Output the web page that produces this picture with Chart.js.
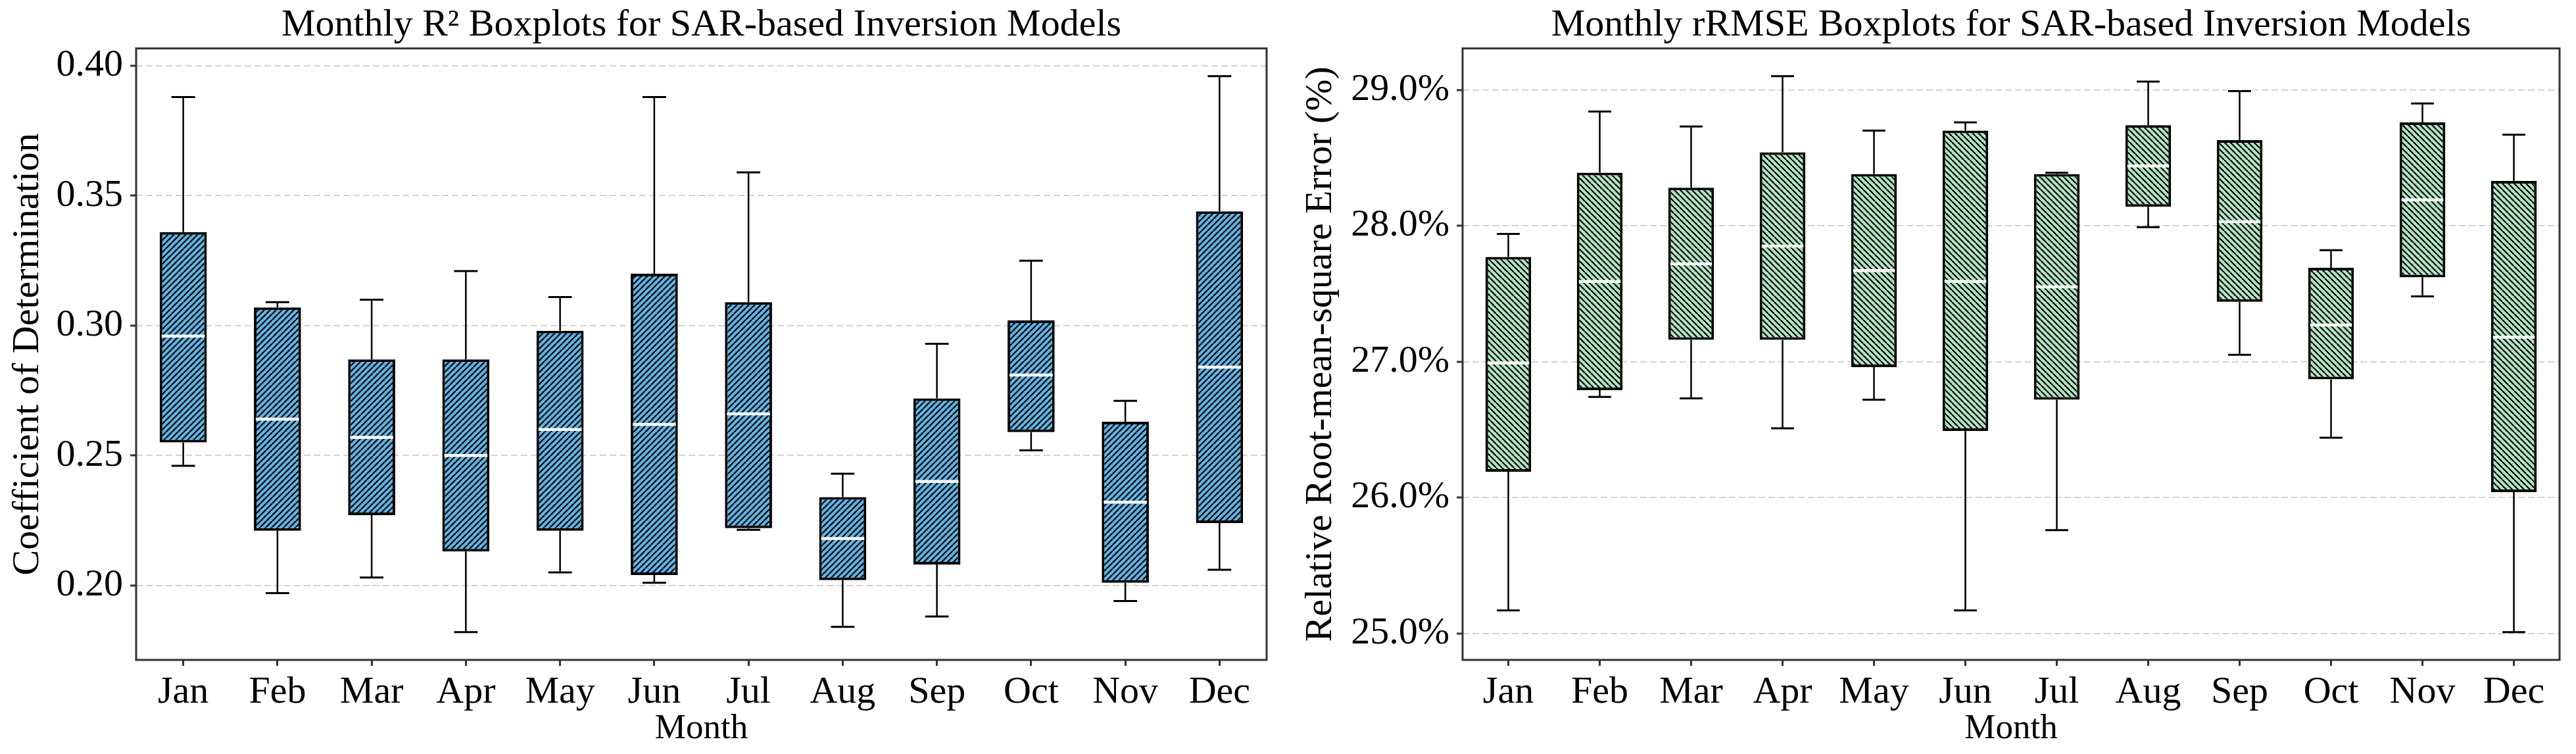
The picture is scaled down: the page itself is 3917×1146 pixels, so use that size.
<!DOCTYPE html>
<html>
<head>
<meta charset="utf-8">
<title>Monthly R² / rRMSE Boxplots</title>
<script src="https://cdn.jsdelivr.net/npm/chart.js@4.4.1/dist/chart.umd.min.js"></script>
<style>
    html, body { margin: 0; padding: 0; background: #fff; overflow: hidden; }
    #wrap { position: relative; width: 3917px; height: 1146px; }
    canvas { position: absolute; top: 0; }
    #r2Chart { left: 0; }
    #rmseChart { left: 1960px; }
</style>
</head>
<body>
<div id="wrap">
    <canvas id="r2Chart" width="1960" height="1146"></canvas>
    <canvas id="rmseChart" width="1957" height="1146"></canvas>
</div>
<script>
// Meses (eje x)
const months = ['Jan', 'Feb', 'Mar', 'Apr', 'May', 'Jun', 'Jul', 'Aug', 'Sep', 'Oct', 'Nov', 'Dec'];

// R² por mes: bigote inferior, Q1, mediana, Q3, bigote superior
const r2Low    = [0.246, 0.197, 0.203, 0.182, 0.205, 0.201, 0.2214, 0.184, 0.188, 0.252, 0.194, 0.206];
const r2Q1     = [0.255, 0.221, 0.227, 0.213, 0.221, 0.204, 0.2220, 0.202, 0.208, 0.259, 0.201, 0.224];
const r2Median = [0.296, 0.264, 0.257, 0.250, 0.260, 0.262, 0.266, 0.218, 0.240, 0.281, 0.232, 0.284];
const r2Q3     = [0.336, 0.307, 0.287, 0.287, 0.298, 0.320, 0.309, 0.234, 0.272, 0.302, 0.263, 0.344];
const r2High   = [0.388, 0.309, 0.310, 0.321, 0.311, 0.388, 0.359, 0.243, 0.293, 0.325, 0.271, 0.396];
const r2Ticks  = [0.20, 0.25, 0.30, 0.35, 0.40];

// rRMSE (%) por mes
const rmseLow    = [25.17, 26.74, 26.73, 26.51, 26.72, 25.17, 25.76, 27.99, 27.05, 26.44, 27.48, 25.01];
const rmseQ1     = [26.19, 26.79, 27.16, 27.16, 26.96, 26.49, 26.72, 28.14, 27.44, 26.87, 27.62, 26.04];
const rmseMedian = [26.99, 27.59, 27.72, 27.85, 27.67, 27.59, 27.55, 28.44, 28.03, 27.27, 28.19, 27.18];
const rmseQ3     = [27.77, 28.39, 28.28, 28.54, 28.38, 28.70, 28.38, 28.74, 28.63, 27.69, 28.76, 28.33];
const rmseHigh   = [27.94, 28.84, 28.73, 29.10, 28.70, 28.76, 28.39, 29.06, 28.99, 27.82, 28.90, 28.67];
const rmseTicks  = [25, 26, 27, 28, 29];

Chart.defaults.font.family = "'Liberation Serif', 'Times New Roman', serif";
Chart.defaults.color = '#000';

// Patrón rayado para las cajas
function makeHatch(fill, dir) {
    const size = 9;
    const tile = document.createElement('canvas');
    tile.width = size;
    tile.height = size;
    const c = tile.getContext('2d');
    c.fillStyle = fill;
    c.fillRect(0, 0, size, size);
    c.strokeStyle = '#000';
    c.lineWidth = 2.2;
    c.beginPath();
    for (let k = -1; k <= 1; k++) {
        if (dir === '/') {
            c.moveTo(k * size, size);
            c.lineTo(k * size + size, 0);
        } else {
            c.moveTo(k * size, 0);
            c.lineTo(k * size + size, size);
        }
    }
    c.stroke();
    return c.createPattern(tile, 'repeat');
}

// Margen del 5% como matplotlib
function paddedRange(lows, highs) {
    const lo = Math.min(...lows);
    const hi = Math.max(...highs);
    const m = (hi - lo) * 0.05;
    return [lo - m, hi + m];
}

// Bigotes, topes, mediana y marco
const boxPlugin = {
    id: 'boxWhiskers',
    afterDatasetsDraw(chart) {
        const { ctx, scales: { y } } = chart;
        const ds = chart.data.datasets[0];
        const meta = chart.getDatasetMeta(0);
        ctx.save();
        meta.data.forEach((bar, i) => {
            const { x, width } = bar.getProps(['x', 'width'], true);
            const half = width / 2;
            const yLow = y.getPixelForValue(ds.low[i]);
            const yQ1 = y.getPixelForValue(ds.data[i][0]);
            const yQ3 = y.getPixelForValue(ds.data[i][1]);
            const yHigh = y.getPixelForValue(ds.high[i]);
            const yMed = y.getPixelForValue(ds.median[i]);

            ctx.strokeStyle = '#000';
            ctx.lineWidth = 2.5;
            ctx.beginPath();
            ctx.moveTo(x, yQ3); ctx.lineTo(x, yHigh);
            ctx.moveTo(x, yQ1); ctx.lineTo(x, yLow);
            ctx.stroke();

            ctx.lineWidth = 3;
            ctx.beginPath();
            ctx.moveTo(x - half / 2, yHigh); ctx.lineTo(x + half / 2, yHigh);
            ctx.moveTo(x - half / 2, yLow); ctx.lineTo(x + half / 2, yLow);
            ctx.stroke();

            ctx.strokeStyle = '#fff';
            ctx.lineWidth = 4.5;
            ctx.beginPath();
            ctx.moveTo(x - half + 3, yMed); ctx.lineTo(x + half - 3, yMed);
            ctx.stroke();
        });
        const a = chart.chartArea;
        ctx.strokeStyle = '#333';
        ctx.lineWidth = 3;
        ctx.strokeRect(a.left, a.top, a.right - a.left, a.bottom - a.top);
        ctx.restore();
    }
};

function createBoxChart(canvasId, cfg) {
    const [yMin, yMax] = paddedRange(cfg.low, cfg.high);
    return new Chart(document.getElementById(canvasId), {
        type: 'bar',
        data: {
            labels: months,
            datasets: [{
                data: cfg.q1.map((v, i) => [v, cfg.q3[i]]),
                low: cfg.low,
                median: cfg.median,
                high: cfg.high,
                backgroundColor: makeHatch(cfg.fill, cfg.hatch),
                borderColor: '#000',
                borderWidth: 4,
                borderSkipped: false,
                barPercentage: 0.5,
                categoryPercentage: 1.0
            }]
        },
        options: {
            responsive: false,
            animation: false,
            devicePixelRatio: 1,
            layout: { padding: { left: 0, right: cfg.padRight, top: 0, bottom: 0 } },
            plugins: {
                legend: { display: false },
                tooltip: { enabled: false },
                title: {
                    display: true,
                    text: cfg.title,
                    fullSize: false,
                    font: { size: 58, weight: 'normal' },
                    color: '#000',
                    padding: { top: 4, bottom: 0 }
                }
            },
            scales: {
                x: {
                    grid: { display: true, drawOnChartArea: false, offset: false, tickLength: 9, tickWidth: 3, tickColor: '#333' },
                    border: { display: false },
                    ticks: { font: { size: 58 }, color: '#000', padding: 6, maxRotation: 0, autoSkip: false },
                    title: { display: true, text: 'Month', font: { size: 53 }, color: '#000', padding: { top: 0, bottom: 6 } },
                    afterFit: s => { s.height = 143; }
                },
                y: {
                    min: yMin,
                    max: yMax,
                    bounds: 'data',
                    afterBuildTicks: s => { s.ticks = cfg.ticks.map(v => ({ value: v })); },
                    grid: { color: '#d4d4d4', lineWidth: 2, tickLength: 9, tickWidth: 3, tickColor: '#333', tickBorderDash: [] },
                    border: { display: false, dash: [10, 5] },
                    ticks: { font: { size: 58 }, color: '#000', padding: 11, callback: cfg.fmt },
                    title: { display: true, text: cfg.yTitle, font: { size: 58 }, color: '#000', padding: { top: cfg.yTitlePad, bottom: 0 } },
                    afterFit: s => { s.width = cfg.yWidth; }
                }
            }
        },
        plugins: [boxPlugin]
    });
}

document.addEventListener('DOMContentLoaded', () => {
    createBoxChart('r2Chart', {
        title: 'Monthly R² Boxplots for SAR-based Inversion Models',
        yTitle: 'Coefficient of Determination',
        low: r2Low, q1: r2Q1, median: r2Median, q3: r2Q3, high: r2High,
        ticks: r2Ticks,
        fmt: v => Number(v).toFixed(2),
        fill: '#62b1e0',
        hatch: '/',
        yWidth: 207,
        yTitlePad: 8,
        padRight: 34
    });

    createBoxChart('rmseChart', {
        title: 'Monthly rRMSE Boxplots for SAR-based Inversion Models',
        yTitle: 'Relative Root-mean-square Error (%)',
        low: rmseLow, q1: rmseQ1, median: rmseMedian, q3: rmseQ3, high: rmseHigh,
        ticks: rmseTicks,
        fmt: v => Number(v).toFixed(1) + '%',
        fill: '#b2e3c1',
        hatch: '\\',
        yWidth: 264,
        yTitlePad: 14,
        padRight: 25
    });
});
</script>
</body>
</html>
